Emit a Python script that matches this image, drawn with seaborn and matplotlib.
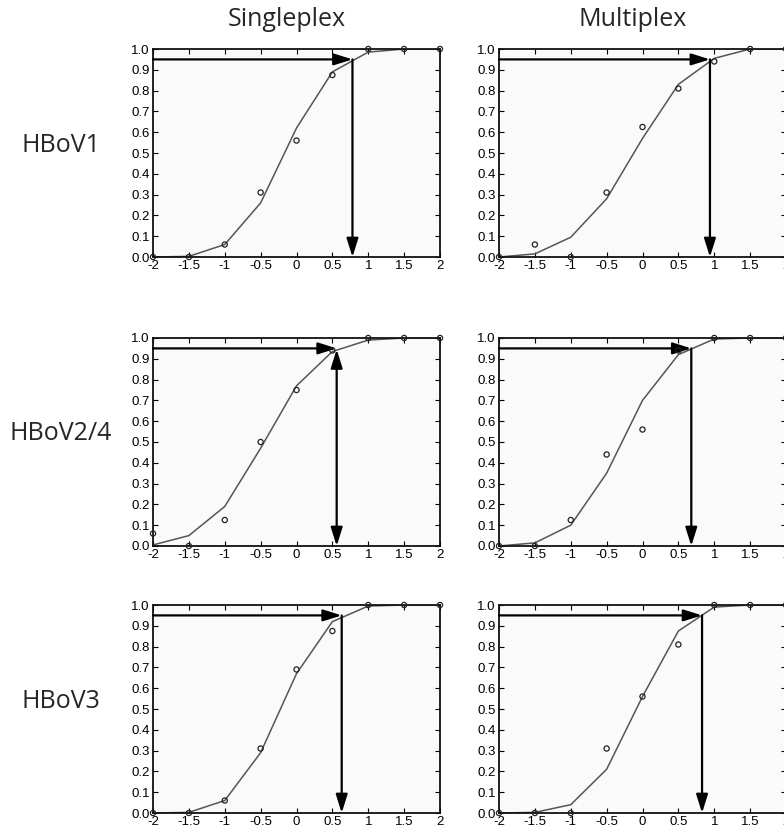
import numpy as np
import pandas as pd
import matplotlib
matplotlib.use("Agg")
import matplotlib.pyplot as plt
import seaborn as sns

sns.set_style('ticks')
plt.rcParams['font.family'] = ['Liberation Sans', 'DejaVu Sans']

# log10 concentration levels
conc = [-2, -1.5, -1, -0.5, 0, 0.5, 1, 1.5, 2]

# observed hit rates (open circles)
obs_s1 = [0.0, 0.0, 0.06, 0.31, 0.56, 0.875, 1.0, 1.0, 1.0]
obs_m1 = [0.0, 0.06, 0.0, 0.31, 0.625, 0.81, 0.94, 1.0, 1.0]
obs_s24 = [0.06, 0.0, 0.125, 0.5, 0.75, 0.94, 1.0, 1.0, 1.0]
obs_m24 = [0.0, 0.0, 0.125, 0.44, 0.56, 0.94, 1.0, 1.0, 1.0]
obs_s3 = [0.0, 0.0, 0.06, 0.31, 0.69, 0.875, 1.0, 1.0, 1.0]
obs_m3 = [0.0, 0.0, 0.0, 0.31, 0.56, 0.81, 1.0, 1.0, 1.0]

# probit fit (line)
fit_s1 = [0.0, 0.003, 0.06, 0.26, 0.62, 0.89, 0.985, 1.0, 1.0]
fit_m1 = [0.0, 0.015, 0.095, 0.28, 0.57, 0.83, 0.955, 1.0, 1.0]
fit_s24 = [0.005, 0.05, 0.19, 0.47, 0.77, 0.935, 0.99, 1.0, 1.0]
fit_m24 = [0.0, 0.015, 0.10, 0.35, 0.70, 0.92, 0.995, 1.0, 1.0]
fit_s3 = [0.0, 0.003, 0.06, 0.29, 0.67, 0.92, 0.995, 1.0, 1.0]
fit_m3 = [0.0, 0.003, 0.04, 0.21, 0.56, 0.875, 0.99, 1.0, 1.0]

# 95% detection limit
lod = {'s1': 0.78, 'm1': 0.94, 's24': 0.56, 'm24': 0.68, 's3': 0.63, 'm3': 0.83}

col_titles = ['Singleplex', 'Multiplex']
row_titles = ['HBoV1', 'HBoV2/4', 'HBoV3']
y_ticks = [0.0, 0.1, 0.2, 0.3, 0.4, 0.5, 0.6, 0.7, 0.8, 0.9, 1.0]
x_ticks = [-2, -1.5, -1, -0.5, 0, 0.5, 1, 1.5, 2]

panels = [
    [('s1', obs_s1, fit_s1), ('m1', obs_m1, fit_m1)],
    [('s24', obs_s24, fit_s24), ('m24', obs_m24, fit_m24)],
    [('s3', obs_s3, fit_s3), ('m3', obs_m3, fit_m3)],
]

W, H = 784, 834
fig = plt.figure(figsize=(W / 100, H / 100), dpi=100)

col_left = [153, 499]
row_top = [49, 338, 605]
aw, ah = 287, 208

head = ',head_length=0.7,head_width=0.22'

for r, row in enumerate(panels):
    for c, (key, obs, fit) in enumerate(row):
        x0 = col_left[c] / W
        y0 = 1 - (row_top[r] + ah) / H
        ax = fig.add_axes([x0, y0, aw / W, ah / H])
        ax.set_facecolor('#fafafa')
        df = pd.DataFrame({'conc': conc, 'obs': obs, 'fit': fit})
        sns.lineplot(data=df, x='conc', y='fit', ax=ax, color='#555555', lw=1.1)
        sns.scatterplot(data=df, x='conc', y='obs', ax=ax, s=14, marker='o',
                        facecolor='none', edgecolor='#222222', linewidth=0.9,
                        clip_on=False, zorder=5)
        xl = lod[key]
        ax.annotate('', xy=(xl, 0.95), xytext=(-2, 0.95),
                    arrowprops=dict(arrowstyle='-|>' + head,
                                    color='black', lw=1.6, shrinkA=0, shrinkB=0,
                                    mutation_scale=16))
        style = '<|-|>' if key == 's24' else '-|>'
        ytop = 0.945 if key == 's24' else 0.95
        ax.annotate('', xy=(xl, 0.0), xytext=(xl, ytop),
                    arrowprops=dict(arrowstyle=style + head,
                                    color='black', lw=1.6, shrinkA=0, shrinkB=0,
                                    mutation_scale=16))
        ax.set_xlim(-2, 2)
        ax.set_ylim(0, 1)
        ax.set_xticks(x_ticks)
        ax.set_xticklabels(['%g' % v for v in x_ticks])
        ax.set_yticks(y_ticks)
        ax.set_yticklabels(['%.1f' % v for v in y_ticks])
        ax.tick_params(direction='in', length=3.5, width=0.8, labelsize=9.5,
                       top=True, right=True, pad=2.5, colors='black')
        ax.set_xlabel('')
        ax.set_ylabel('')
        for sp in ax.spines.values():
            sp.set_linewidth(1.3)
            sp.set_color('#111111')

for c, t in enumerate(col_titles):
    cx = (col_left[c] + aw / 2 - 10) / W
    fig.text(cx, 1 - 20 / H, t, ha='center', va='center', fontsize=18,
             family=['Open Sans', 'DejaVu Sans'])

for r, t in enumerate(row_titles):
    cy = (row_top[r] + ah / 2 - 8) / H
    fig.text(61 / W, 1 - cy, t, ha='center', va='center', fontsize=18,
             family=['Open Sans', 'DejaVu Sans'])

fig.savefig('out.png', dpi=100, facecolor='white')
